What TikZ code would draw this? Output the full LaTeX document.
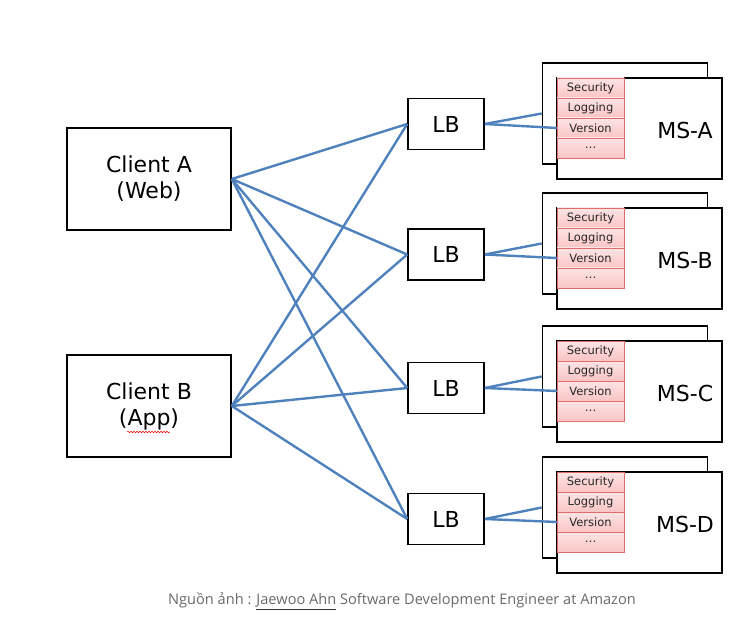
\documentclass[tikz,border=0pt]{standalone}
\usepackage{fontspec}
\setmainfont{DejaVu Sans}
\newfontfamily\capfont{Open Sans}
\usetikzlibrary{arrows.meta, calc, positioning, decorations.pathmorphing}
\definecolor{linkblue}{RGB}{79,129,189}
\definecolor{stripred}{RGB}{222,110,110}
\definecolor{stripfill}{RGB}{250,196,196}
\definecolor{capgray}{RGB}{105,105,105}
\tikzset{
  box/.style={draw, line width=1.6pt, fill=white, inner sep=0pt},
  client/.style={box, minimum width=164pt, minimum height=102pt, align=center, font=\fontsize{22}{26}\selectfont},
  lbbox/.style={box, minimum width=76pt, minimum height=51pt, font=\fontsize{22}{24}\selectfont},
  msbox/.style={box, minimum width=165pt, minimum height=101pt},
  strip/.style={draw=stripred, line width=0.8pt, top color=stripfill!45!white, bottom color=stripfill, minimum width=67pt, minimum height=20pt, inner sep=0pt, outer sep=0pt, text=black!85, font=\fontsize{11.5}{12}\selectfont},
  link/.style={draw=linkblue, line width=2.4pt},
}
\begin{document}
\begin{tikzpicture}[x=1pt,y=-1pt]
\useasboundingbox (0,0) rectangle (736,620);
\node[client] at (149,179) (ca) {Client A\\(Web)};
\node[client] at (149,406) (cb) {Client B\\(App)};
\draw[red, line width=0.5pt, decorate, decoration={snake, amplitude=0.7pt, segment length=3pt}] (127,432) -- (170,432);
\foreach \n/\t/\l/\y in {1/A/124/128.5, 2/B/254.5/258.5, 3/C/388/391.5, 4/D/519/522.5}{
  \node[lbbox] at (446,\l) (lb\n) {LB};
  \node[msbox] at (625,\y-15) (back\n) {};
  \node[msbox] at (639.5,\y) (front\n) {};
  \node[strip] at (590.5,\y-40.5) (sec\n) {Security};
  \node[strip, below=0pt of sec\n] (log\n) {Logging};
  \node[strip, below=0pt of log\n] (ver\n) {Version};
  \node[strip, below=0pt of ver\n] (etc\n) {\ldots};
  \node[font=\fontsize{22}{24}\selectfont] at (685,\y+1.5) (name\n) {MS-\t};
  \draw[link] (lb\n.east) -- (back\n.west);
  \draw[link] (lb\n.east) -- (ver\n.west);
  \draw[link] (ca.east) -- (lb\n.west);
  \draw[link] (cb.east) -- (lb\n.west);
}
\node[font=\capfont\fontsize{14.6}{17}\selectfont, text=capgray] at (402,601) (src) {Nguồn ảnh : {\color{black!80}\underline{\textcolor{capgray}{Jaewoo Ahn}}} Software Development Engineer at Amazon};
\end{tikzpicture}
\end{document}
